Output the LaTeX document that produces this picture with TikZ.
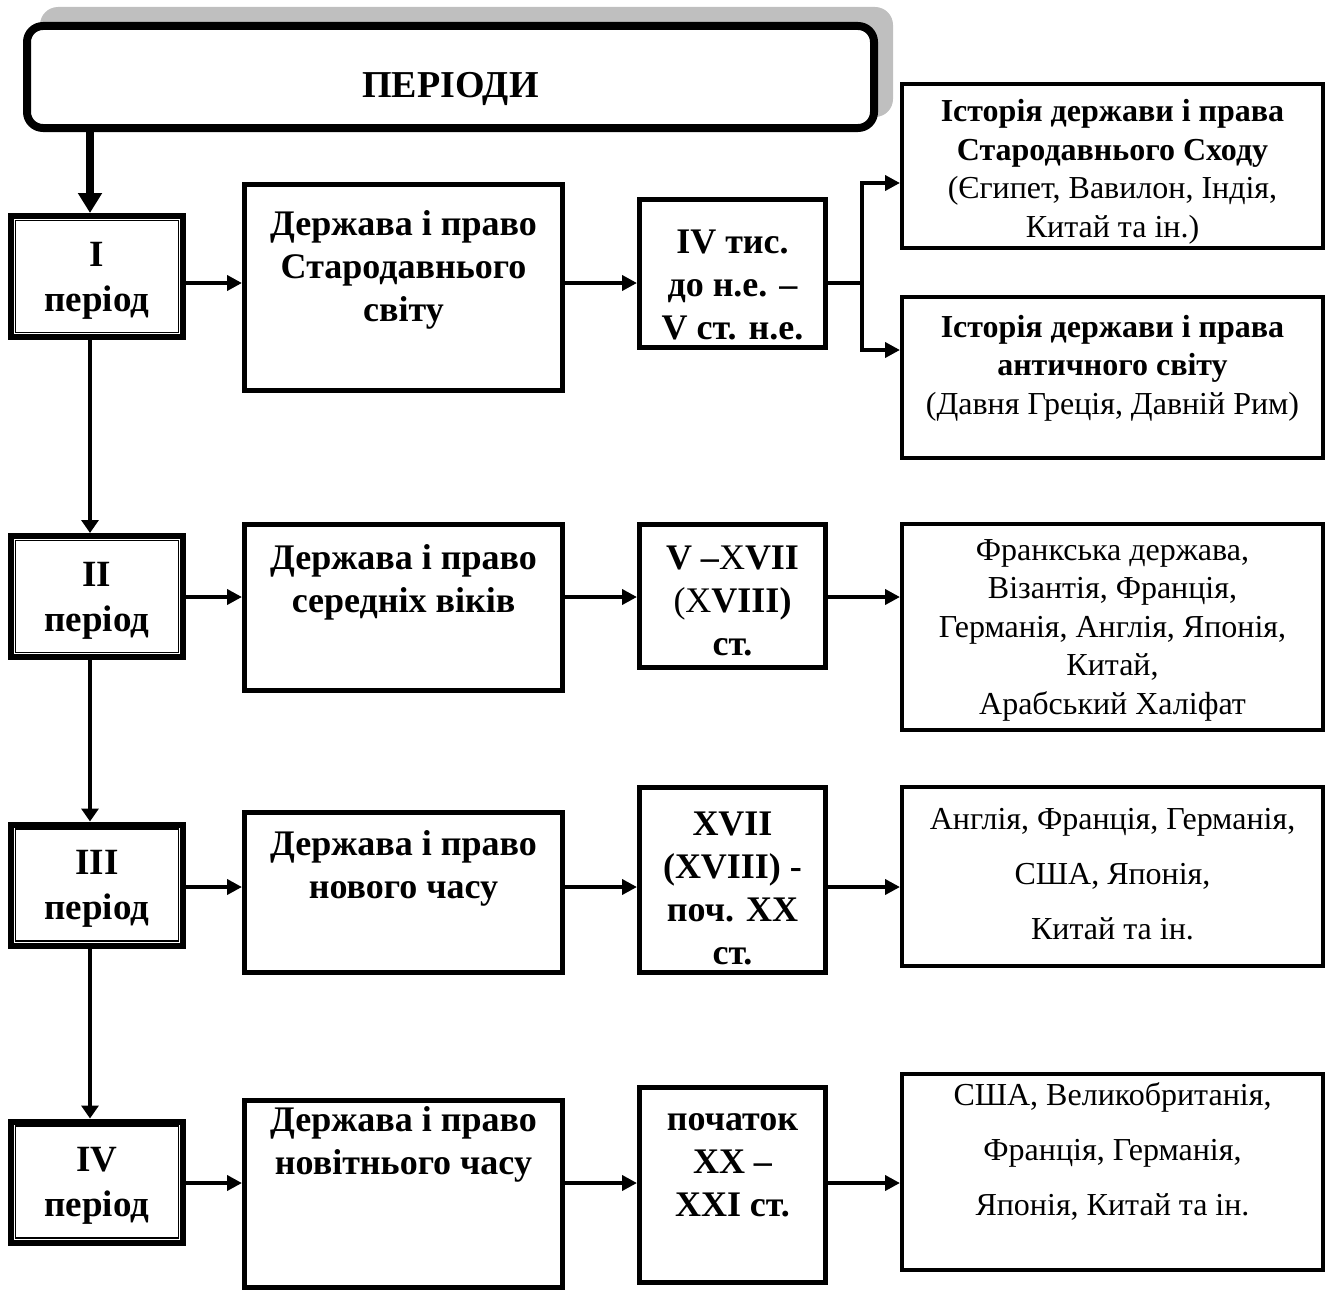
\documentclass[tikz,border=0pt]{standalone}
\usepackage{fontspec}
\setmainfont{Liberation Serif}
\usetikzlibrary{arrows.meta, positioning}
\tikzstyle{hdr} = [rectangle, rounded corners=16pt, draw=black, line width=8pt, fill=white, minimum width=847pt, minimum height=102pt, text height=41pt, text depth=0pt, font=\fontsize{38}{44}\selectfont\bfseries]
\tikzstyle{shade} = [rectangle, rounded corners=18pt, fill=black!25, minimum width=853pt, minimum height=110pt]
\tikzstyle{per} = [rectangle, draw=black, line width=6pt, minimum width=172pt, minimum height=121pt, align=center, text depth=0pt, font=\fontsize{37}{45}\selectfont\bfseries]
\tikzstyle{perin} = [draw=black, line width=1.6pt]
\tikzstyle{frame} = [rectangle, draw=black, line width=5pt, minimum width=318pt]
\tikzstyle{dframe} = [rectangle, draw=black, line width=5pt, minimum width=186pt]
\tikzstyle{rframe} = [rectangle, draw=black, line width=4pt, minimum width=421pt]
\tikzstyle{btxt} = [align=center, inner sep=0pt, font=\fontsize{36}{43}\selectfont\bfseries]
\tikzstyle{ntxt} = [align=center, inner sep=0pt, font=\fontsize{32}{38.5}\selectfont]
\tikzstyle{arrow} = [-{Triangle[length=15pt,width=15pt]}, line width=4pt]
\tikzstyle{vline} = [-{Triangle[length=13pt,width=17pt]}, line width=4pt]
\tikzstyle{bigarrow} = [-{Triangle[length=20pt,width=23pt]}, line width=8pt]

\begin{document}
\begin{tikzpicture}[x=1pt,y=-1pt]
        \useasboundingbox (0,0) rectangle (1329,1295);

        % header
        \node[shade] (hdrsh) at (466.5,62) {};
        \node[hdr] (hdr) at (450.5,77) {ПЕРІОДИ};

        % periods
        \foreach \i/\y/\t in {1/276.5/I, 2/596.5/II, 3/885/III, 4/1182/IV}
        {\node[per] (p\i) at (97,\y) {\t\\період};
         \draw[perin] ([xshift=7.5pt,yshift=-7.5pt]p\i.north west) rectangle ([xshift=-7.5pt,yshift=7.5pt]p\i.south east);}

        % state and law frames
        \node[frame, minimum height=206pt] (st1) at (403.5,287.5) {};
        \node[frame, minimum height=166pt] (st2) at (403.5,607.5) {};
        \node[frame, minimum height=160pt] (st3) at (403.5,892.5) {};
        \node[frame, minimum height=187pt] (st4) at (403.5,1194) {};
        \node[btxt] (st1t) at (403.5,270) {Держава і право\\Стародавнього\\світу};
        \node[btxt] (st2t) at (403.5,582) {Держава і право\\середніх віків};
        \node[btxt] (st3t) at (403.5,868) {Держава і право\\нового часу};
        \node[btxt] (st4t) at (403.5,1144) {Держава і право\\новітнього часу};

        % dates
        \node[dframe, minimum height=148pt] (d1) at (732.5,273.5) {};
        \node[dframe, minimum height=143pt] (d2) at (732.5,596) {};
        \node[dframe, minimum height=185pt] (d3) at (732.5,880) {};
        \node[dframe, minimum height=195pt] (d4) at (732.5,1185) {};
        \node[btxt] (d1t) at (732.5,285) {IV тис.\\до н.е. –\\V ст. н.е.};
        \node[btxt] (d2t) at (732.5,601) {V –{\mdseries X}VII\\{\mdseries(X}VIII)\\ст.};
        \node[btxt] (d3t) at (732.5,888) {XVII\\(XVIII) -\\поч. XX\\ст.};
        \node[btxt] (d4t) at (732.5,1165) {початок\\XX –\\XXI ст.};

        % countries
        \node[rframe, minimum height=164pt] (ra) at (1112.5,166) {};
        \node[rframe, minimum height=161pt] (rb) at (1112.5,377.5) {};
        \node[rframe, minimum height=206pt] (r2) at (1112.5,627) {};
        \node[rframe, minimum height=179pt] (r3) at (1112.5,876.5) {};
        \node[rframe, minimum height=196pt] (r4) at (1112.5,1172) {};
        \node[ntxt] (rat) at (1112.5,172) {\textbf{Історія держави і права}\\\textbf{Стародавнього Сходу}\\(Єгипет, Вавилон, Індія,\\Китай та ін.)};
        \node[ntxt] (rbt) at (1112.5,368) {\textbf{Історія держави і права}\\\textbf{античного світу}\\(Давня Греція, Давній Рим)};
        \node[ntxt] (r2t) at (1112.5,630) {Франкська держава,\\Візантія, Франція,\\Германія, Англія, Японія,\\Китай,\\Арабський Халіфат};
        \node[ntxt, font=\fontsize{32}{55}\selectfont] (r3t) at (1112.5,874) {Англія, Франція, Германія,\\США, Японія,\\Китай та ін.};
        \node[ntxt, font=\fontsize{32}{55}\selectfont] (r4t) at (1112.5,1151) {США, Великобританія,\\Франція, Германія,\\Японія, Китай та ін.};

        % rows
        \coordinate (r1y) at (0,283);
        \coordinate (r2y) at (0,597);
        \coordinate (r3y) at (0,887);
        \coordinate (r4y) at (0,1183);
        \coordinate (br) at (862,283);
        \coordinate (c1) at ([xshift=-7pt]p1.north);

        \draw[bigarrow] (hdr.south -| c1) -- (c1);
        \draw[vline] ([xshift=-7pt]p1.south) -- ([xshift=-7pt]p2.north);
        \draw[vline] ([xshift=-7pt]p2.south) -- ([xshift=-7pt]p3.north);
        \draw[vline] ([xshift=-7pt]p3.south) -- ([xshift=-7pt]p4.north);

        \foreach \i in {1,...,4}
        {\draw[arrow] (p\i.east |- r\i y) -- (st\i.west |- r\i y);
         \draw[arrow] (st\i.east |- r\i y) -- (d\i.west |- r\i y);}

        \draw[line width=4pt] (d1.east |- r1y) -- (br);
        \draw[arrow] (br) |- ([yshift=-17pt]ra.west);
        \draw[arrow] (br) |- ([yshift=27.5pt]rb.west);
        \draw[arrow] (d2.east |- r2y) -- (r2.west |- r2y);
        \draw[arrow] (d3.east |- r3y) -- (r3.west |- r3y);
        \draw[arrow] (d4.east |- r4y) -- (r4.west |- r4y);
\end{tikzpicture}
\end{document}
